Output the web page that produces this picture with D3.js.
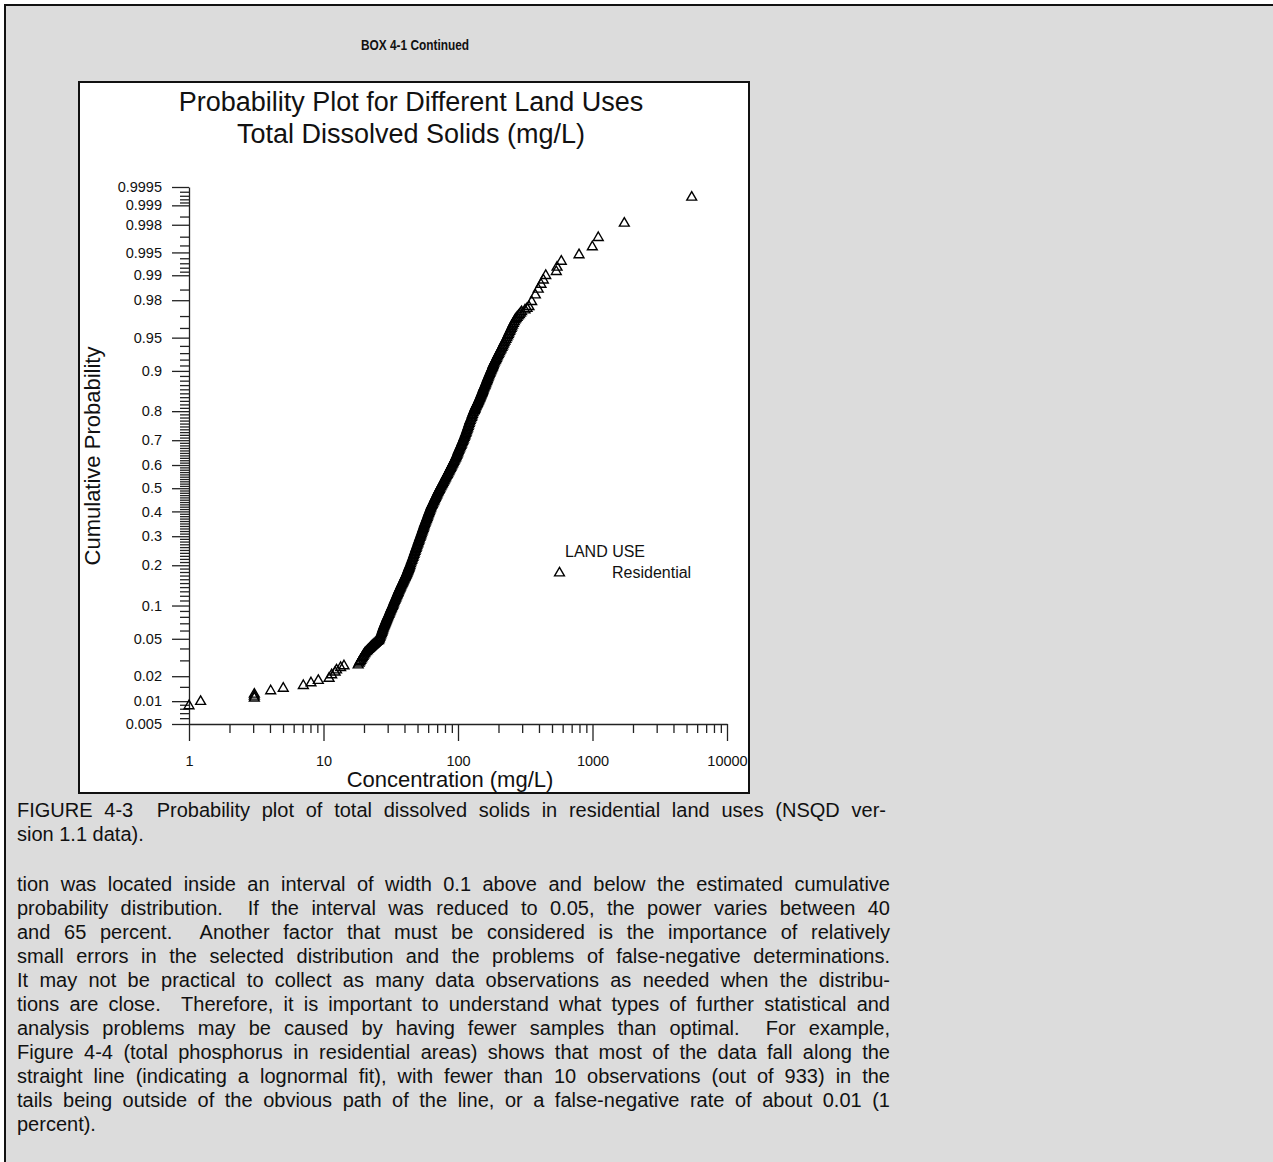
<!DOCTYPE html>
<html>
<head>
<meta charset="utf-8">
<script src="https://cdn.jsdelivr.net/npm/d3@7"></script>
<style>
  html, body { margin: 0; padding: 0; background: #ffffff; }
  svg { display: block; }
</style>
</head>
<body>
<svg id="page" width="1273" height="1162"></svg>
<script>
// ---- Residential land use: total dissolved solids (mg/L) and plotted cumulative probability ----
const tdsConcentration = [
  // lower tail
  1.0, 1.22, 3.06, 3.06, 3.06, 4.05, 5.02, 7.08, 8.07, 9.15, 11.0, 11.5, 12.2, 12.5, 13.4, 14.2, 18.1,
  // main body
  18.4, 18.65, 18.9, 19.15, 19.4, 19.65, 19.9, 20.15, 20.4, 20.8, 21.2, 21.6, 22.0, 22.4, 22.8, 23.25, 23.7, 24.15,
  24.6, 25.1, 25.6, 25.8, 26.0, 26.2, 26.4, 26.65, 26.9, 27.1, 27.3, 27.45, 27.6, 27.8, 28.0, 28.2, 28.4, 28.6,
  28.8, 29.0, 29.2, 29.4, 29.6, 29.8, 30.0, 30.3, 30.6, 30.85, 31.1, 31.35, 31.6, 31.85, 32.1, 32.4, 32.7, 32.95,
  33.2, 33.5, 33.8, 34.1, 34.4, 34.7, 35.0, 35.3, 35.6, 35.85, 36.1, 36.4, 36.7, 37.0, 37.3, 37.6, 37.9, 38.2,
  38.5, 38.8, 39.1, 39.4, 39.7, 40.0, 40.3, 40.6, 40.9, 41.2, 41.5, 41.75, 42.0, 42.25, 42.5, 42.75, 43.0, 43.2,
  43.4, 43.65, 43.9, 44.35, 44.8, 45.25, 45.7, 46.15, 46.6, 47.0, 47.4, 47.85, 48.3, 48.7, 49.1, 49.55, 50.0, 50.4,
  50.8, 51.2, 51.6, 52.05, 52.5, 52.9, 53.3, 53.75, 54.2, 54.6, 55.0, 55.4, 55.8, 56.2, 56.6, 57.1, 57.6, 58.05,
  58.5, 58.95, 59.4, 59.85, 60.3, 60.75, 61.2, 61.7, 62.2, 62.65, 63.1, 63.7, 64.3, 64.95, 65.6, 66.2, 66.8, 67.4,
  68.0, 68.65, 69.3, 69.95, 70.6, 71.3, 72.0, 72.7, 73.4, 74.2, 75.0, 75.8, 76.6, 77.4, 78.2, 79.0, 79.8, 80.6,
  81.4, 82.3, 83.2, 84.05, 84.9, 85.8, 86.7, 87.55, 88.4, 89.3, 90.2, 91.15, 92.1, 93.05, 94.0, 95.0, 96.0, 96.85,
  97.7, 98.6, 99.5, 100.2, 101, 102, 103, 104, 105, 106, 107, 108, 109, 110, 111, 112, 113, 114,
  115, 116, 117, 118, 119, 120, 121, 122, 123, 124.5, 126, 127, 128, 129.5, 131, 132, 133, 133.5,
  134, 135, 136, 137, 138, 139, 140, 141, 142, 143, 144, 145, 146, 147, 148, 149, 150, 151,
  152, 153, 154, 155, 156, 157.5, 159, 160, 161, 162.5, 164, 165, 166, 167.5, 169, 170.5, 172, 173.5,
  175, 176.5, 178, 179.5, 181, 182, 183, 185, 187, 189, 191, 193, 195, 197, 199, 201.5, 204, 206.5,
  209, 212, 215, 217.5, 220, 223.5, 227, 230.5, 234, 236.5, 239, 242, 245, 248, 251, 254.5, 258, 262,
  266, 270.5, 275, 280.5, 286, 291.5, 297, 315, 326,
  // upper tail
  337, 353, 376, 395, 414, 431, 449, 538, 545, 586, 794, 997, 1104, 1724, 5465
];
const tdsProbability = [
  // lower tail
  0.0087, 0.0099, 0.0109, 0.0115, 0.0122, 0.0134, 0.0144, 0.0155, 0.0167, 0.0178, 0.0189, 0.0207, 0.0222, 0.0235, 0.0250, 0.0261, 0.0267,
  // main body
  0.028, 0.029, 0.030, 0.031, 0.032, 0.033, 0.034, 0.035, 0.036, 0.037, 0.038, 0.039, 0.040, 0.041, 0.042, 0.043, 0.044, 0.045,
  0.046, 0.047, 0.048, 0.049, 0.050, 0.0515, 0.053, 0.0545, 0.056, 0.0575, 0.059, 0.0605, 0.062, 0.0635, 0.065, 0.0665, 0.068, 0.0695,
  0.071, 0.0725, 0.074, 0.0755, 0.077, 0.0785, 0.080, 0.082, 0.084, 0.086, 0.088, 0.090, 0.092, 0.094, 0.096, 0.098, 0.100, 0.1025,
  0.105, 0.1075, 0.110, 0.1125, 0.115, 0.1175, 0.120, 0.1225, 0.125, 0.1275, 0.130, 0.1325, 0.135, 0.1375, 0.140, 0.1425, 0.145, 0.1475,
  0.150, 0.1525, 0.155, 0.1575, 0.160, 0.1625, 0.165, 0.1675, 0.170, 0.1725, 0.175, 0.1775, 0.180, 0.1825, 0.185, 0.1875, 0.190, 0.1925,
  0.195, 0.1975, 0.200, 0.205, 0.210, 0.215, 0.220, 0.225, 0.230, 0.235, 0.240, 0.245, 0.250, 0.255, 0.260, 0.265, 0.270, 0.275,
  0.280, 0.285, 0.290, 0.295, 0.300, 0.305, 0.310, 0.315, 0.320, 0.325, 0.330, 0.335, 0.340, 0.345, 0.350, 0.355, 0.360, 0.365,
  0.370, 0.375, 0.380, 0.385, 0.390, 0.395, 0.400, 0.405, 0.410, 0.415, 0.420, 0.425, 0.430, 0.435, 0.440, 0.445, 0.450, 0.455,
  0.460, 0.465, 0.470, 0.475, 0.480, 0.485, 0.490, 0.495, 0.500, 0.505, 0.510, 0.515, 0.520, 0.525, 0.530, 0.535, 0.540, 0.545,
  0.550, 0.555, 0.560, 0.565, 0.570, 0.575, 0.580, 0.585, 0.590, 0.595, 0.600, 0.605, 0.610, 0.615, 0.620, 0.625, 0.630, 0.635,
  0.640, 0.645, 0.650, 0.655, 0.660, 0.665, 0.670, 0.675, 0.680, 0.685, 0.690, 0.695, 0.700, 0.705, 0.710, 0.715, 0.720, 0.725,
  0.730, 0.735, 0.740, 0.745, 0.750, 0.755, 0.760, 0.765, 0.770, 0.775, 0.780, 0.785, 0.790, 0.795, 0.800, 0.8025, 0.805, 0.8075,
  0.810, 0.8125, 0.815, 0.8175, 0.820, 0.8225, 0.825, 0.8275, 0.830, 0.8325, 0.835, 0.8375, 0.840, 0.8425, 0.845, 0.8475, 0.850, 0.8525,
  0.855, 0.8575, 0.860, 0.8625, 0.865, 0.8675, 0.870, 0.8725, 0.875, 0.8775, 0.880, 0.8825, 0.885, 0.8875, 0.890, 0.8925, 0.895, 0.8975,
  0.900, 0.902, 0.904, 0.906, 0.908, 0.910, 0.912, 0.914, 0.916, 0.918, 0.920, 0.922, 0.924, 0.926, 0.928, 0.930, 0.932, 0.934,
  0.936, 0.938, 0.940, 0.942, 0.944, 0.946, 0.948, 0.950, 0.952, 0.9535, 0.955, 0.9565, 0.958, 0.9595, 0.961, 0.9625, 0.964, 0.9655,
  0.967, 0.968, 0.969, 0.970, 0.971, 0.972, 0.973, 0.9742, 0.9752,
  // upper tail
  0.9763, 0.9792, 0.9826, 0.9851, 0.9870, 0.9885, 0.9899, 0.9910, 0.9921, 0.9934, 0.9946, 0.9958, 0.9969, 0.9981, 0.99926
];

// ---- axis ticks ----
const xMajorTicks = [1, 10, 100, 1000, 10000];
const xTickLabels = ["1", "10", "100", "1000", "10000"];
const yMajorTicks = [0.005, 0.01, 0.02, 0.05, 0.1, 0.2, 0.3, 0.4, 0.5, 0.6, 0.7, 0.8, 0.9, 0.95, 0.98, 0.99, 0.995, 0.998, 0.999, 0.9995];
const yTickLabels = ["0.005", "0.01", "0.02", "0.05", "0.1", "0.2", "0.3", "0.4", "0.5", "0.6", "0.7", "0.8", "0.9", "0.95", "0.98", "0.99", "0.995", "0.998", "0.999", "0.9995"];
const yMinorEdges = [0.006, 0.007, 0.008, 0.009, 0.015, 0.03, 0.04, 0.06, 0.07, 0.08, 0.09,
                     0.91, 0.92, 0.93, 0.94, 0.96, 0.97, 0.985, 0.991, 0.992, 0.993, 0.994, 0.996, 0.997, 0.9985,
                     0.9991, 0.9992, 0.9993, 0.9994];

// ---- texts ----
const boxHeading = "BOX 4-1 Continued";
const titleLines = ["Probability Plot for Different Land Uses", "Total Dissolved Solids (mg/L)"];
const xTitle = "Concentration (mg/L)";
const yTitle = "Cumulative Probability";
const legendTitle = "LAND USE";
const legendLabel = "Residential";
const captionLines = [
  "FIGURE 4-3  Probability plot of total dissolved solids in residential land uses (NSQD ver-",
  "sion 1.1 data)."
];
const bodyLines = [
  "tion was located inside an interval of width 0.1 above and below the estimated cumulative",
  "probability distribution.  If the interval was reduced to 0.05, the power varies between 40",
  "and 65 percent.  Another factor that must be considered is the importance of relatively",
  "small errors in the selected distribution and the problems of false-negative determinations.",
  "It may not be practical to collect as many data observations as needed when the distribu-",
  "tions are close.  Therefore, it is important to understand what types of further statistical and",
  "analysis problems may be caused by having fewer samples than optimal.  For example,",
  "Figure 4-4 (total phosphorus in residential areas) shows that most of the data fall along the",
  "straight line (indicating a lognormal fit), with fewer than 10 observations (out of 933) in the",
  "tails being outside of the obvious path of the line, or a false-negative rate of about 0.01 (1",
  "percent)."
];

// Inverse standard normal CDF (Acklam's rational approximation) for the probability axis
function probit(p) {
  const a = [-3.969683028665376e+01, 2.209460984245205e+02, -2.759285104469687e+02, 1.383577518672690e+02, -3.066479806614716e+01, 2.506628277459239e+00];
  const b = [-5.447609879822406e+01, 1.615858368580409e+02, -1.556989798598866e+02, 6.680131188771972e+01, -1.328068155288572e+01];
  const c = [-7.784894002430293e-03, -3.223964580411365e-01, -2.400758277161838e+00, -2.549732539343734e+00, 4.374664141464968e+00, 2.938163982698783e+00];
  const d = [7.784695709041462e-03, 3.224671290700398e-01, 2.445134137142996e+00, 3.754408661907416e+00];
  const pl = 0.02425, ph = 1 - pl;
  let q, r;
  if (p < pl) {
    q = Math.sqrt(-2 * Math.log(p));
    return (((((c[0] * q + c[1]) * q + c[2]) * q + c[3]) * q + c[4]) * q + c[5]) / ((((d[0] * q + d[1]) * q + d[2]) * q + d[3]) * q + 1);
  }
  if (p <= ph) {
    q = p - 0.5; r = q * q;
    return (((((a[0] * r + a[1]) * r + a[2]) * r + a[3]) * r + a[4]) * r + a[5]) * q / (((((b[0] * r + b[1]) * r + b[2]) * r + b[3]) * r + b[4]) * r + 1);
  }
  q = Math.sqrt(-2 * Math.log(1 - p));
  return -(((((c[0] * q + c[1]) * q + c[2]) * q + c[3]) * q + c[4]) * q + c[5]) / ((((d[0] * q + d[1]) * q + d[2]) * q + d[3]) * q + 1);
}

const svg = d3.select("#page");
const FONT = "'Liberation Sans', Arial, Helvetica, sans-serif";

// page background with the box frame
svg.append("rect").attr("x", 0).attr("y", 0).attr("width", 1273).attr("height", 1162).attr("fill", "#ffffff");
svg.append("rect")
  .attr("x", 5).attr("y", 5).attr("width", 1320).attr("height", 1220)
  .attr("fill", "#dcdcdc").attr("stroke", "#111").attr("stroke-width", 2);

svg.append("text")
  .attr("x", 361).attr("y", 50)
  .attr("textLength", 108).attr("lengthAdjust", "spacingAndGlyphs")
  .attr("font-family", FONT).attr("font-weight", "bold").attr("font-size", 14)
  .attr("fill", "#111")
  .text(boxHeading);

// chart panel
svg.append("rect")
  .attr("x", 79).attr("y", 82).attr("width", 670).attr("height", 711)
  .attr("fill", "#ffffff").attr("stroke", "#111").attr("stroke-width", 2);

const x = d3.scaleLog().domain([1, 10000]).range([189, 727]);
const z = d3.scaleLinear().domain([probit(0.005), probit(0.9995)]).range([724, 187]);
const y = p => z(probit(p));

const plot = svg.append("g").attr("font-family", FONT);

// title
plot.selectAll("text.title").data(titleLines).join("text")
  .attr("class", "title")
  .attr("x", 411).attr("y", (d, i) => 111 + i * 32)
  .attr("text-anchor", "middle").attr("font-size", 27).attr("fill", "#111")
  .text(d => d);

function styleAxis(g) {
  g.selectAll("path.domain").attr("stroke", "#222").attr("stroke-width", 1.3);
  g.selectAll(".tick line").attr("stroke", "#222").attr("stroke-width", 1.3);
  g.selectAll(".tick text").attr("fill", "#111").attr("font-family", FONT).attr("font-size", 14.5);
}

// x axis: minor ticks (2..9 per decade) then labelled decades
const xMinorTicks = [];
[1, 10, 100, 1000].forEach(dec => [2, 3, 4, 5, 6, 7, 8, 9].forEach(m => xMinorTicks.push(dec * m)));
const gxMinor = plot.append("g").attr("transform", "translate(0,724)")
  .call(d3.axisBottom(x).tickValues(xMinorTicks).tickSize(9).tickSizeOuter(0).tickFormat(""));
gxMinor.select("path.domain").remove();
styleAxis(gxMinor);

const gx = plot.append("g").attr("transform", "translate(0,724)")
  .call(d3.axisBottom(x).tickValues(xMajorTicks).tickSize(17).tickSizeOuter(0).tickPadding(15)
    .tickFormat((d, i) => xTickLabels[i]));
styleAxis(gx);

// y axis on a normal-probability scale
const yMinorTicks = yMinorEdges.concat(d3.range(11, 90).filter(k => k % 10 !== 0).map(k => k / 100));
const gyMinor = plot.append("g").attr("transform", "translate(189,0)")
  .call(d3.axisLeft(z).tickValues(yMinorTicks.map(probit)).tickSize(9).tickSizeOuter(0).tickFormat(""));
gyMinor.select("path.domain").remove();
styleAxis(gyMinor);

const gy = plot.append("g").attr("transform", "translate(189,0)")
  .call(d3.axisLeft(z).tickValues(yMajorTicks.map(probit)).tickSize(17).tickSizeOuter(0).tickPadding(10)
    .tickFormat((d, i) => yTickLabels[i]));
styleAxis(gy);

// axis titles
plot.append("text")
  .attr("x", 450).attr("y", 787)
  .attr("text-anchor", "middle").attr("font-size", 22).attr("fill", "#111")
  .text(xTitle);
plot.append("text")
  .attr("transform", "translate(100,456) rotate(-90)")
  .attr("text-anchor", "middle").attr("font-size", 22).attr("fill", "#111")
  .text(yTitle);

// data points: open triangles
const triangle = d3.symbol().type(d3.symbolTriangle).size(42);
plot.append("g")
  .selectAll("path")
  .data(d3.zip(tdsConcentration, tdsProbability))
  .join("path")
  .attr("d", triangle)
  .attr("transform", d => `translate(${x(d[0])},${y(d[1])})`)
  .attr("fill", "none").attr("stroke", "#000").attr("stroke-width", 1.4);

// legend
const legend = plot.append("g");
legend.append("text").attr("x", 565).attr("y", 557).attr("font-size", 16).attr("fill", "#111").text(legendTitle);
legend.append("path").attr("d", triangle).attr("transform", "translate(559.5,573)")
  .attr("fill", "none").attr("stroke", "#000").attr("stroke-width", 1.4);
legend.append("text").attr("x", 612).attr("y", 578).attr("font-size", 16).attr("fill", "#111").text(legendLabel);

// caption and body paragraph, justified between the margins
const prose = svg.append("g").attr("font-family", FONT).attr("font-size", 20).attr("fill", "#111");
function setLine(str, x0, x1, yBase, justify) {
  const t = prose.append("text").attr("y", yBase);
  if (!justify) { t.attr("x", x0).text(str); return; }
  const words = str.split(" ");
  const widths = words.map(w => {
    if (!w) return 0;
    const tmp = prose.append("text").text(w);
    const wd = tmp.node().getComputedTextLength();
    tmp.remove();
    return wd;
  });
  const gap = (x1 - x0 - d3.sum(widths)) / (words.length - 1);
  let cx = x0;
  words.forEach((w, i) => {
    if (w) t.append("tspan").attr("x", cx).text(w);
    cx += widths[i] + gap;
  });
}
captionLines.forEach((s, i) => setLine(s, 17, 886, 817 + i * 24, i < captionLines.length - 1));
bodyLines.forEach((s, i) => setLine(s, 17, 890, 891 + i * 24, i < bodyLines.length - 1));
</script>
</body>
</html>
